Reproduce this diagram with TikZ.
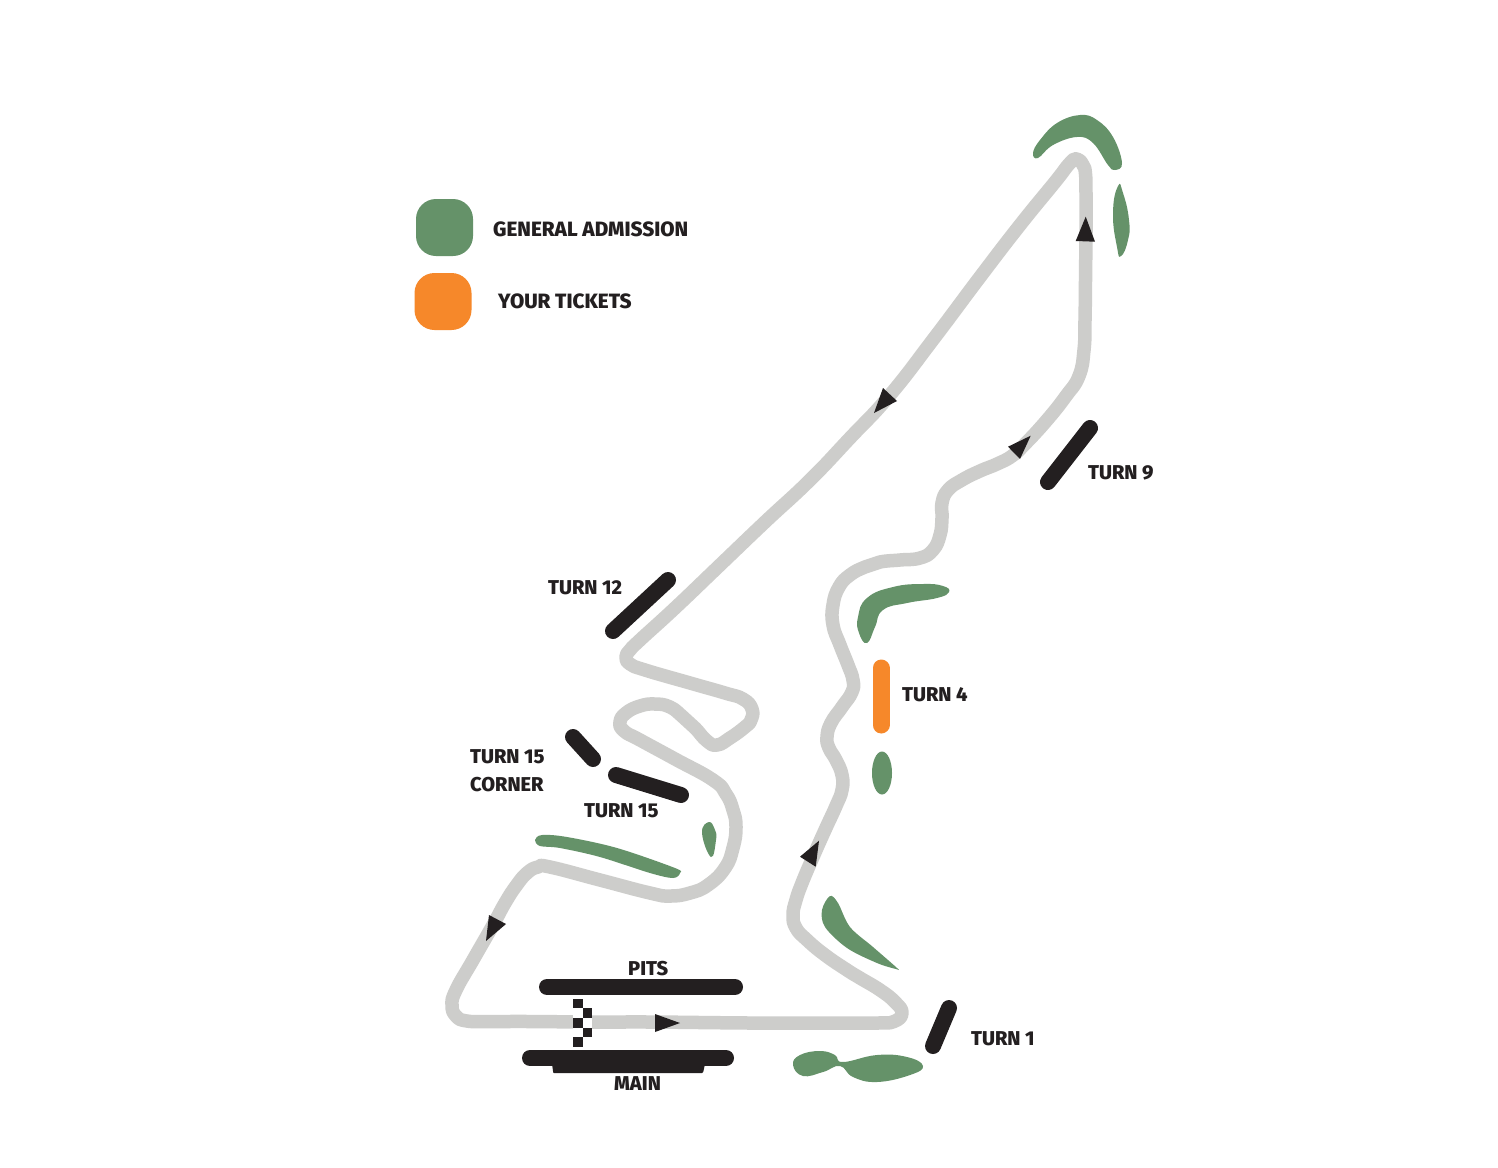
\documentclass[tikz,border=0pt]{standalone}
\usepackage{fontspec}
\setmainfont[BoldFont={Fira Sans ExtraBold}]{Fira Sans}
\usetikzlibrary{positioning}

\definecolor{trackgrey}{HTML}{CDCDCB}
\definecolor{gagreen}{HTML}{659269}
\definecolor{ticketorange}{HTML}{F6882A}
\definecolor{standblack}{HTML}{231F20}

\tikzstyle{track} = [line width=13.5pt, color=trackgrey, line join=round]
\tikzstyle{stand} = [line width=16pt, color=standblack, line cap=round]
\tikzstyle{ticket} = [line width=17pt, color=ticketorange, line cap=round]
\tikzstyle{gazone} = [fill=gagreen, draw=none]
\tikzstyle{dir} = [fill=standblack, draw=none]
\tikzstyle{swatch} = [rectangle, rounded corners=20pt, minimum width=57pt, minimum height=57pt, inner sep=0pt]
\tikzstyle{maplabel} = [anchor=base west, inner sep=0pt, text=standblack, font=\fontsize{20}{20}\selectfont\bfseries]
\tikzstyle{legendlabel} = [maplabel, font=\fontsize{20.7}{20.7}\selectfont\bfseries]

\begin{document}
\begin{tikzpicture}[x=1pt, y=-1pt]

    \useasboundingbox (0,0) rectangle (1498,1167);
    \fill[white] (0,0) rectangle (1498,1167);

    % track
    \draw [track] plot [smooth cycle, tension=0.8] coordinates {
        (650,1022) (700,1022.5) (750,1023) (800,1023) (850,1023) (878,1023) (894,1021.5) (902,1013)
        (895,1002) (880,990) (860,978) (847,970) (825,955) (807,940) (796,928) (793,915)
        (796,900) (802,883) (813,857) (825,830) (836,806) (842,790) (842,775) (836,760)
        (829,748) (827,737) (831,723) (842,707) (852,692) (853,680) (848,665) (840,645)
        (833,625) (833,605) (839,587) (850,575) (865,567) (880,562) (900,560) (920,558)
        (933,550) (940,535) (942,518) (942,503) (948,490) (962,480) (980,471) (997,464)
        (1012,456) (1025,444) (1047,420) (1066,396) (1079,376) (1084,350) (1085,320) (1085.5,280)
        (1086,230) (1086,195) (1085.5,174) (1083,165) (1077,159) (1070,163) (1055,182) (1020,225)
        (980,277) (935,337) (890,395) (850,438) (810,480) (765,522) (720,565) (675,608)
        (640,640) (630,650) (626,657) (630,664) (645,670) (690,683) (725,693) (743,699)
        (752,709) (751,720) (745,727) (730,738) (717,745) (707,741) (695,728) (683,717)
        (670,707) (655,704) (640,706) (626,713) (620,722) (624,731) (640,740) (675,759)
        (713,780) (726,794) (733,810) (736,827) (733,848) (725,868) (708,885) (690,893)
        (670,896) (650,893) (600,880) (550,867) (538,867) (527,873) (516,886) (505,903)
        (493,925) (473,960) (456,990) (452,1005) (456,1016) (467,1021) (490,1021.5) (530,1021.5)
        (590,1022)};

    % general admission
    \fill [gazone] plot [smooth cycle, tension=0.7] coordinates {(1033,153) (1038,158) (1053,145) (1077,137) (1093,143) (1108,165) (1115,170) (1122,163) (1113,137) (1097,120) (1080,115) (1057,123) (1040,140)};
    \fill [gazone] plot [smooth cycle, tension=0.9] coordinates {(1118,186) (1113,213) (1117,247) (1121,256) (1128,240) (1129,220) (1123,193)};
    \fill [gazone] plot [smooth cycle, tension=0.8] coordinates {(949,592) (937,598) (907,603) (883,610) (875,627) (867,643) (859,633) (858,617) (867,598) (893,587) (923,584) (943,586)};
    \fill [gazone] (882,773) ellipse [x radius=10, y radius=21.5];
    \fill [gazone] plot [smooth cycle, tension=0.55] coordinates {(830,896) (822,910) (825,927) (847,948) (877,963) (896,969) (897,968) (873,947) (850,927) (838,903)};
    \fill [gazone] plot [smooth cycle, tension=0.75] coordinates {(793,1065) (800,1055) (820,1051) (835,1055) (843,1062) (877,1055) (907,1057) (923,1066) (910,1075) (877,1082) (853,1077) (840,1066) (823,1072) (803,1076)};
    \fill [gazone] plot [smooth cycle, tension=0.55] coordinates {(535,840) (542,835) (567,837) (617,848) (675,868) (680,873) (673,878) (650,873) (600,857) (560,848) (540,846)};
    \fill [gazone] plot [smooth cycle, tension=0.8] coordinates {(709,822) (702,833) (711,857) (716,840) (715,830)};

    % stands
    \draw [stand] (1090,428) -- (1048,482);
    \draw [stand] (668,580) -- (613,631);
    \draw [stand] (573,737) -- (593,759);
    \draw [stand] (616,775) -- (681,795);
    \draw [stand] (949,1008) -- (933,1046);
    \draw [stand] (547,987) -- (735,987);
    \draw [stand] (530,1058) -- (726,1058);
    \fill [standblack] (552,1064) -- (553,1071) [rounded corners=1pt] -- (553,1073) -- (703,1073) [sharp corners] -- (705,1064) -- cycle;
    \draw [ticket] (881,668) -- (881,725);

    % direction marks
    \fill [dir] (655,1014) -- (680,1023) -- (655,1032) -- cycle;
    \fill [dir] (1085.7,216.7) -- (1095,241.7) -- (1075.7,241) -- cycle;
    \fill [dir] (1030.7,435.7) -- (1020,459) -- (1008,446.7) -- cycle;
    \fill [dir] (819,840.7) -- (815.7,866.7) -- (800,856.7) -- cycle;
    \fill [dir] (883,388) -- (897,401) -- (874,413) -- cycle;
    \fill [dir] (489,915) -- (506,924) -- (486,941) -- cycle;

    % start line
    \foreach \col/\row/\shade in {0/0/standblack, 0/1/white, 0/2/standblack, 0/3/white, 0/4/standblack, 1/1/standblack, 1/2/white, 1/3/standblack} {
        \fill [\shade] (573+9.6*\col,998.7+9.6*\row) rectangle +(9.7,9.7);
    }

    % legend
    \node (generalswatch) [swatch, fill=gagreen] at (444.5,227.5) {};
    \node (ticketswatch) [swatch, fill=ticketorange] at (443,301.5) {};
    \node (generallabel) [legendlabel] at (493,236) {GENERAL ADMISSION};
    \node (ticketlabel) [legendlabel] at (498,308) {YOUR TICKETS};

    % labels
    \node (turnnine) [maplabel] at (1088,479) {TURN 9};
    \node (turntwelve) [maplabel] at (548,594) {TURN 12};
    \node (turnfour) [maplabel] at (902,701) {TURN 4};
    \node (turnfifteena) [maplabel] at (470,763) {TURN 15};
    \node (corner) [maplabel] at (470,791) {CORNER};
    \node (turnfifteenb) [maplabel] at (584,817) {TURN 15};
    \node (pits) [maplabel] at (628,975) {PITS};
    \node (main) [maplabel] at (614,1090) {MAIN};
    \node (turnone) [maplabel] at (971,1045) {TURN 1};

\end{tikzpicture}
\end{document}
